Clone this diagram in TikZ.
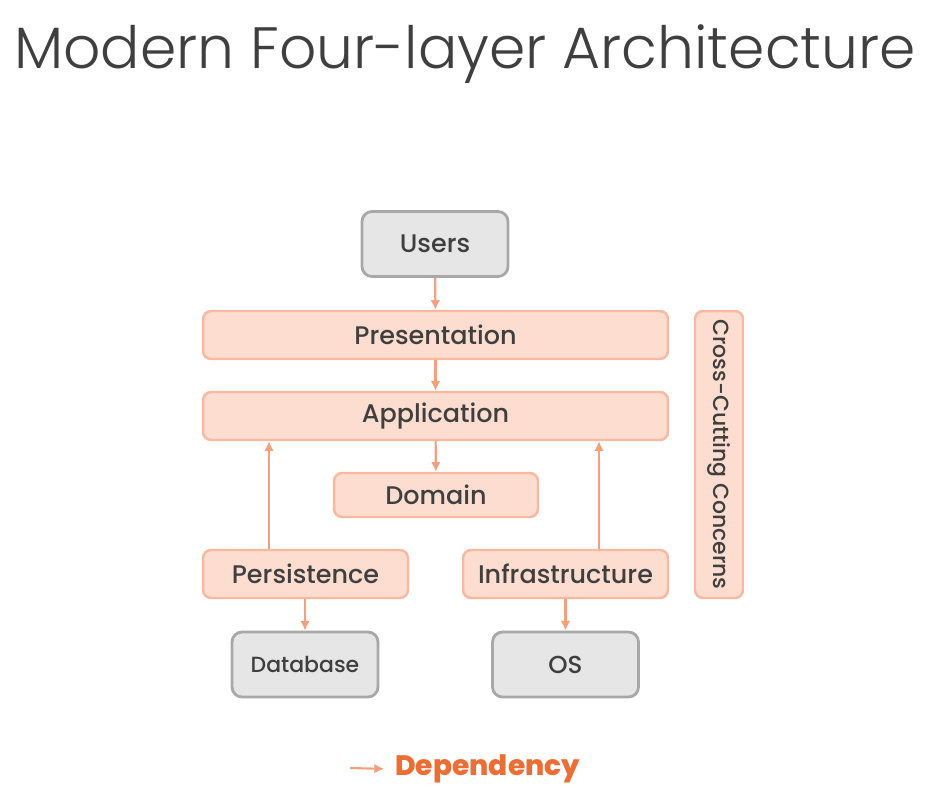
\documentclass[tikz,border=0pt]{standalone}
\usepackage{fontspec}
\setmainfont{Poppins Medium}
\newfontfamily\titlefont{Poppins Light}
\usetikzlibrary{arrows.meta,positioning}

\definecolor{layerfill}{HTML}{FDDDD0}
\definecolor{layerdraw}{HTML}{F8B9A0}
\definecolor{depline}{HTML}{F4A07E}
\definecolor{extfill}{HTML}{E6E6E6}
\definecolor{extdraw}{HTML}{A8A8A8}
\definecolor{labeltext}{HTML}{3F3F3F}
\definecolor{legendtext}{HTML}{EA6E35}

\tikzset{
    layer/.style={draw=layerdraw, fill=layerfill, line width=1.4pt, rounded corners=0.16cm,
        minimum height=0.96cm, text=labeltext, font=\fontsize{14.5}{16}\selectfont},
    external/.style={draw=extdraw, fill=extfill, line width=1.6pt, rounded corners=0.2cm,
        minimum width=2.92cm, minimum height=1.3cm, text=labeltext, font=\fontsize{12.5}{15}\selectfont},
    depends/.style={draw=depline, line width=1.2pt, -{Latex[length=5.5pt,width=5.5pt]}},
}

\begin{document}
\begin{tikzpicture}[x=0.02cm, y=-0.02cm]
    \useasboundingbox (0,0) rectangle (946,802);

    % title
    \node[text=labeltext, font=\titlefont\fontsize{33.2}{38}\selectfont] (title) at (465,54) {Modern Four-layer Architecture};

    % layers
    \node[external, font=\fontsize{14.5}{16}\selectfont] (users) at (435,244) {Users};
    \node[layer, minimum width=9.3cm] (presentation) at (435.5,335) {Presentation};
    \node[layer, minimum width=9.3cm] (application) at (435.5,416) {Application};
    \node[layer, minimum width=4.08cm, minimum height=0.88cm] (domain) at (436,495) {Domain};
    \node[layer, minimum width=4.1cm] (persistence) at (305.5,574) {Persistence};
    \node[layer, minimum width=4.1cm] (infrastructure) at (565.5,574) {Infrastructure};
    \node[layer, minimum width=5.74cm, rotate=-90, font=\fontsize{12.5}{14}\selectfont] (crosscutting) at (719,454.5) {Cross-Cutting Concerns};
    \node[external] (database) at (305,664.5) {Database};
    \node[external, font=\fontsize{14}{16}\selectfont] (os) at (565.5,664.5) {OS};

    % dependencies
    \draw[depends] (users) -- (presentation);
    \draw[depends] (presentation) -- (application);
    \draw[depends] (application) -- (domain);
    \draw[depends] (persistence.north -| 269,0) -- (application.south -| 269,0);
    \draw[depends] (infrastructure.north -| 599,0) -- (application.south -| 599,0);
    \draw[depends] (persistence.south -| database) -- (database);
    \draw[depends] (infrastructure.south -| os) -- (os);

    % legend
    \coordinate (legstart) at (350,768);
    \node[anchor=west, text=legendtext, font=\bfseries\fontsize{16}{18}\selectfont] (legend) at (389,769) {Dependency};
    \draw[depends, shorten >=0.1cm] (legstart) -- (legend.west);
\end{tikzpicture}
\end{document}
